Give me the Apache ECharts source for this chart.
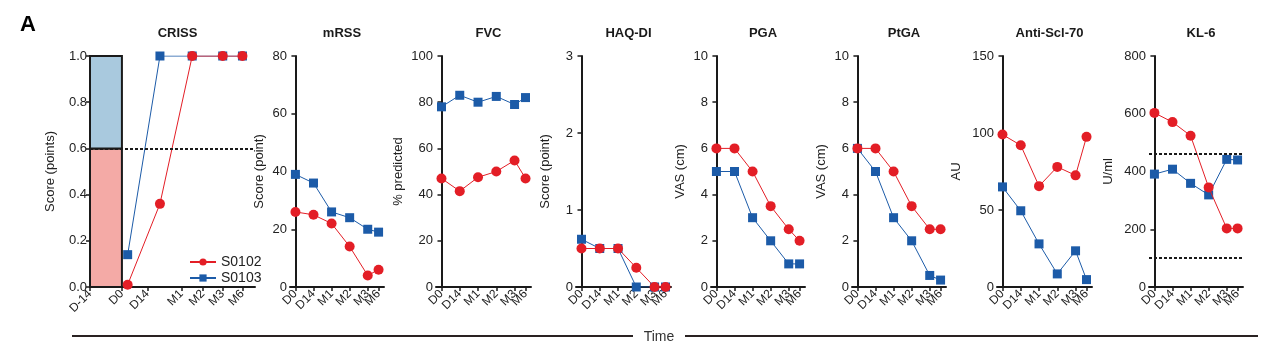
<!DOCTYPE html>
<html>
<head>
<meta charset="utf-8">
<script src="https://cdn.jsdelivr.net/npm/echarts@6/dist/echarts.min.js"></script>
<style>
html,body{margin:0;padding:0;background:#fff;}
#chart{width:1280px;height:354px;}
</style>
</head>
<body>
<div id="chart"></div>
<script>
// time axis (non-uniform spacing as in the figure)
var timeLabels = ['D0', 'D14', 'M1', 'M2', 'M3', 'M6'];
var timePos = [0, 1, 2, 3, 4, 4.6];
var crissLabels = ['D-14', 'D0', 'D14', 'M1', 'M2', 'M3', 'M6'];
var crissTickPos = [0, 1.78, 3.2, 5.1, 6.3, 7.4, 8.5];
var crissPointPos = [2.1, 3.9, 5.7, 7.4, 8.5];

// values
var crissS0102 = [0.01, 0.36, 1, 1, 1];
var crissS0103 = [0.14, 1, 1, 1, 1];
var mrssS0102 = [26, 25, 22, 14, 4, 6];
var mrssS0103 = [39, 36, 26, 24, 20, 19];
var fvcS0102 = [47, 41.5, 47.5, 50, 54.8, 47];
var fvcS0103 = [78, 83, 80, 82.5, 79, 82];
var haqS0102 = [0.5, 0.5, 0.5, 0.25, 0, 0];
var haqS0103 = [0.62, 0.5, 0.5, 0, 0, 0];
var pgaS0102 = [6, 6, 5, 3.5, 2.5, 2];
var pgaS0103 = [5, 5, 3, 2, 1, 1];
var ptgaS0102 = [6, 6, 5, 3.5, 2.5, 2.5];
var ptgaS0103 = [6, 5, 3, 2, 0.5, 0.3];
var sclS0102 = [99, 92, 65.5, 78, 72.5, 97.5];
var sclS0103 = [65, 49.5, 28, 8.5, 23.5, 4.8];
var kl6S0102 = [603, 571, 524, 345, 203, 203];
var kl6S0103 = [391, 408, 359, 319, 442, 440];
var kl6Refs = [460, 100];
var crissCut = 0.6;

var RED = '#e31e26';
var BLUE = '#1c5ba8';
var INK = '#1a1a1a';
var FONT = 'Liberation Sans, Arial, sans-serif';

var panelLeft = [90, 290, 436, 576, 711, 852, 997, 1149];
var panelWidth = [165, 94, 95, 95, 94, 94, 95, 94];

var panels = [
	{title: 'CRISS', max: 1, interval: 0.2, name: 'Score (points)', gap: 33, s1: crissS0102, s2: crissS0103},
	{title: 'mRSS', max: 80, interval: 20, name: 'Score (point)', gap: 24, s1: mrssS0102, s2: mrssS0103},
	{title: 'FVC', max: 100, interval: 20, name: '% predicted', gap: 31, s1: fvcS0102, s2: fvcS0103},
	{title: 'HAQ-DI', max: 3, interval: 1, name: 'Score (point)', gap: 24, s1: haqS0102, s2: haqS0103},
	{title: 'PGA', max: 10, interval: 2, name: 'VAS (cm)', gap: 24, s1: pgaS0102, s2: pgaS0103},
	{title: 'PtGA', max: 10, interval: 2, name: 'VAS (cm)', gap: 24, s1: ptgaS0102, s2: ptgaS0103},
	{title: 'Anti-Scl-70', max: 150, interval: 50, name: 'AU', gap: 34, s1: sclS0102, s2: sclS0103},
	{title: 'KL-6', max: 800, interval: 200, name: 'U/ml', gap: 34, s1: kl6S0102, s2: kl6S0103}
];

function pick(labels, pos) {
	return function(v) {
		for (var i = 0; i < pos.length; i++) {
			if (Math.abs(pos[i] - v) < 1e-6) return labels[i];
		}
		return '';
	};
}

var grids = [], xAxes = [], yAxes = [], titles = [], series = [];

panels.forEach(function(p, i) {
	var isCriss = i == 0;
	var ticks = isCriss ? crissTickPos : timePos;
	var labels = isCriss ? crissLabels : timeLabels;
	var xs = isCriss ? crissPointPos : timePos;
	var xMax = isCriss ? 9.2 : 4.9;

	grids.push({left: panelLeft[i], width: panelWidth[i], top: 56, height: 231});
	titles.push({
		text: p.title,
		left: panelLeft[i] + panelWidth[i] / 2,
		top: 22,
		textAlign: 'center',
		textStyle: {fontSize: 13, fontWeight: 'bold', color: INK, fontFamily: FONT}
	});
	xAxes.push({
		gridIndex: i,
		type: 'value',
		min: isCriss ? 0 : -0.3,
		max: xMax,
		axisLine: {show: true, onZero: false, lineStyle: {color: INK, width: 2}},
		axisTick: {show: true, customValues: ticks, length: 4, lineStyle: {color: INK, width: 1.5}},
		axisLabel: {
			// empty label at the axis end so M3 / M6 are both kept
			customValues: ticks.concat([xMax]),
			interval: 0,
			rotate: 45,
			fontSize: 12,
			color: '#222',
			margin: 5,
			fontFamily: FONT,
			formatter: pick(labels, ticks)
		},
		splitLine: {show: false}
	});
	yAxes.push({
		gridIndex: i,
		type: 'value',
		min: 0,
		max: p.max,
		interval: p.interval,
		name: p.name,
		nameLocation: 'middle',
		nameGap: p.gap,
		nameTextStyle: {fontSize: 13, color: '#222', fontFamily: FONT},
		axisLine: {show: true, lineStyle: {color: INK, width: 2}},
		axisTick: {show: true, length: 4, lineStyle: {color: INK, width: 1.5}},
		axisLabel: {
			fontSize: 13,
			color: '#222',
			margin: 3,
			fontFamily: FONT,
			formatter: isCriss ? function(v) { return v.toFixed(1); } : '{value}'
		},
		splitLine: {show: false}
	});

	var redSeries = {
		name: 'S0102',
		type: 'line',
		xAxisIndex: i,
		yAxisIndex: i,
		z: 4,
		data: p.s1.map(function(v, k) { return [xs[k], v]; }),
		symbol: 'circle',
		symbolSize: 10,
		itemStyle: {color: RED},
		lineStyle: {color: RED, width: 1},
		animation: false
	};
	var blueSeries = {
		name: 'S0103',
		type: 'line',
		xAxisIndex: i,
		yAxisIndex: i,
		z: 3,
		data: p.s2.map(function(v, k) { return [xs[k], v]; }),
		symbol: 'rect',
		symbolSize: 9,
		itemStyle: {color: BLUE},
		lineStyle: {color: BLUE, width: 1},
		animation: false
	};

	if (isCriss) {
		//基线区间：D-14 到 D0 的色块
		blueSeries.markArea = {
			silent: true,
			itemStyle: {borderColor: INK, borderWidth: 2},
			data: [
				[{xAxis: crissTickPos[0], yAxis: 0, itemStyle: {color: '#f4aaa6'}}, {xAxis: crissTickPos[1], yAxis: crissCut}],
				[{xAxis: crissTickPos[0], yAxis: crissCut, itemStyle: {color: '#a9c9de'}}, {xAxis: crissTickPos[1], yAxis: 1}]
			]
		};
		redSeries.markLine = {
			silent: true,
			symbol: 'none',
			label: {show: false},
			lineStyle: {color: INK, type: [3, 2], width: 2},
			data: [{yAxis: crissCut}]
		};
	}
	if (i == 7) {
		redSeries.markLine = {
			silent: true,
			symbol: 'none',
			label: {show: false},
			lineStyle: {color: INK, type: [3, 2], width: 2},
			data: kl6Refs.map(function(v) { return {yAxis: v}; })
		};
	}
	series.push(redSeries, blueSeries);
});

var chart = echarts.init(document.getElementById('chart'));
chart.setOption({
	animation: false,
	textStyle: {fontFamily: FONT},
	title: titles,
	grid: grids,
	xAxis: xAxes,
	yAxis: yAxes,
	legend: {
		data: ['S0102', 'S0103'],
		orient: 'vertical',
		left: 184,
		top: 250,
		itemGap: 2,
		itemWidth: 26,
		itemHeight: 9,
		textStyle: {fontSize: 14, color: '#222', fontFamily: FONT},
		selectedMode: false
	},
	series: series,
	graphic: [
		{type: 'text', left: 20, top: 14, style: {text: 'A', font: 'bold 22px ' + FONT, fill: '#000'}},
		{type: 'line', shape: {x1: 72, y1: 336, x2: 633, y2: 336}, style: {stroke: '#2a2222', lineWidth: 2}},
		{type: 'line', shape: {x1: 685, y1: 336, x2: 1258, y2: 336}, style: {stroke: '#2a2222', lineWidth: 2}},
		{type: 'text', x: 659, y: 337, style: {text: 'Time', font: '14px ' + FONT, fill: '#333', align: 'center', verticalAlign: 'middle'}}
	]
});
</script>
</body>
</html>
